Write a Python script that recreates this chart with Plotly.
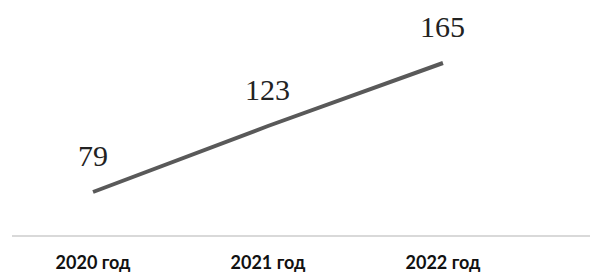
import plotly.graph_objects as go

categories = ["2020 год", "2021 год", "2022 год"]
values = [79, 123, 165]

fig = go.Figure()
fig.add_trace(go.Scatter(
    x=categories, y=values, mode="lines",
    line=dict(color="#595959", width=4),
    hoverinfo="skip", showlegend=False,
))
for c, v in zip(categories, values):
    fig.add_annotation(x=c, y=v, text=str(v), showarrow=False, yshift=37,
                       font=dict(family="Liberation Serif", size=30, color="#222222"))

fig.update_layout(
    width=590, height=265,
    margin=dict(l=4, r=0, t=0, b=38),
    paper_bgcolor="white", plot_bgcolor="white",
    xaxis=dict(type="category", range=[-0.463, 2.886], showgrid=False, zeroline=False,
               showline=True, linecolor="#d9d9d9", linewidth=2,
               ticks="outside", ticklen=10, tickcolor="rgba(0,0,0,0)",
               tickfont=dict(family="Lato", size=18, color="#111111", weight="bold")),
    yaxis=dict(range=[50.33, 201.67], visible=False),
)
fig.write_html("out.html")
